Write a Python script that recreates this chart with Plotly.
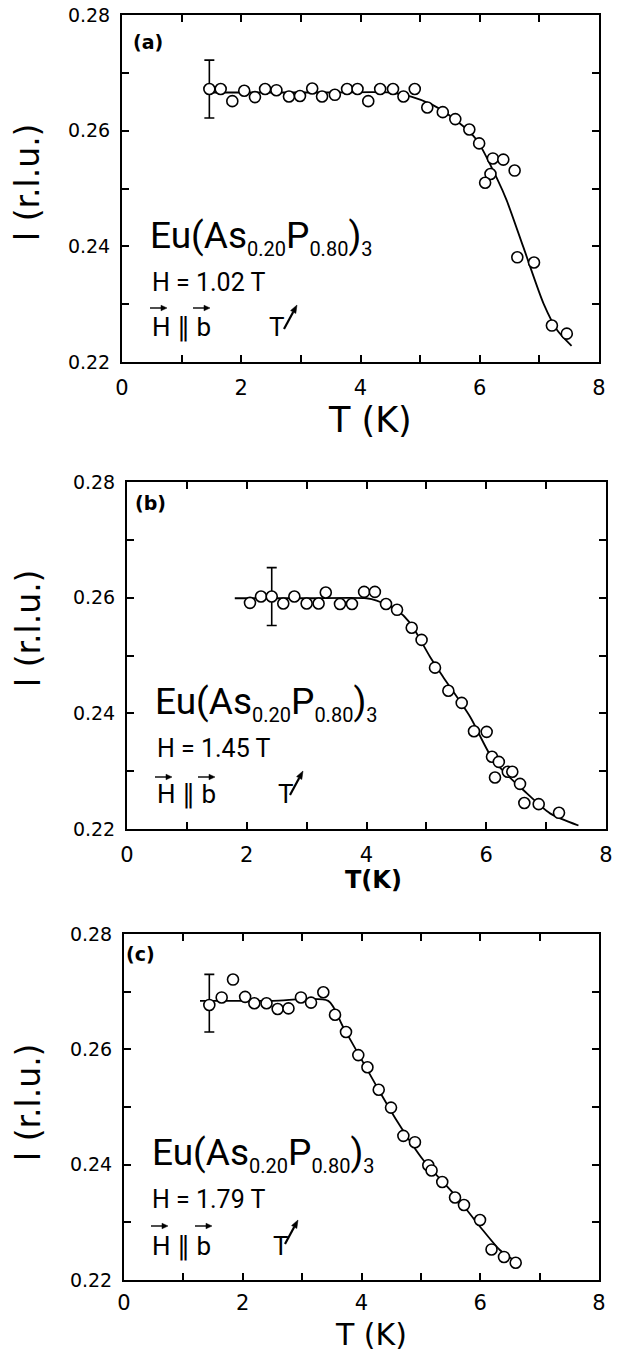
import math
import plotly.graph_objects as go

W, H = 618, 1354

# ---------------- data ----------------
# panel (a) H = 1.02 T
Ta = [1.465, 1.655, 1.85, 2.05, 2.23, 2.40, 2.59, 2.80, 2.985, 3.19, 3.355, 3.57, 3.775, 3.95,
      4.13, 4.33, 4.545, 4.72, 4.91, 5.12, 5.38, 5.59, 5.825, 5.99, 6.22, 6.395, 6.585, 6.18,
      6.09, 6.63, 6.91, 7.21, 7.46]
Ia = [0.2672, 0.2672, 0.2651, 0.2669, 0.2658, 0.2672, 0.2670, 0.2659, 0.2660, 0.2673, 0.2659,
      0.2662, 0.2672, 0.2672, 0.2651, 0.2672, 0.2672, 0.2659, 0.2672, 0.2640, 0.2632, 0.2620,
      0.2602, 0.2578, 0.2552, 0.2550, 0.2531, 0.2525, 0.2510, 0.2381, 0.2372, 0.2263, 0.2249]
Ta_err, Ia_err, dIa = [1.465], [0.2672], [0.005]
Ta_fit = [1.45, 2.5, 3.5, 4.5, 4.85, 5.2, 5.6, 5.95, 6.3, 6.45, 6.73, 7.07, 7.3, 7.54]
Ia_fit = [0.2666, 0.2666, 0.2666, 0.2666, 0.2659, 0.2645, 0.2618, 0.2584, 0.2515, 0.2480,
          0.2399, 0.2301, 0.2255, 0.2228]

# panel (b) H = 1.45 T
Tb = [2.054, 2.238, 2.417, 2.61, 2.795, 3.0, 3.20, 3.32, 3.557, 3.757, 3.96, 4.14, 4.326, 4.51,
      4.755, 4.92, 5.144, 5.367, 5.59, 5.795, 6.007, 6.096, 6.21, 6.146, 6.36, 6.435, 6.564,
      6.636, 6.876, 7.215]
Ib = [0.2591, 0.2602, 0.2602, 0.2590, 0.2602, 0.2590, 0.2590, 0.2609, 0.2589, 0.2589, 0.2610,
      0.2610, 0.2589, 0.2579, 0.2548, 0.2527, 0.2479, 0.2439, 0.2418, 0.2369, 0.2368, 0.2325,
      0.2316, 0.2289, 0.2299, 0.2299, 0.2278, 0.2245, 0.2243, 0.2228]
Tb_err, Ib_err, dIb = [2.417], [0.2602], [0.005]
Tb_fit = [1.80, 3.0, 4.0, 4.17, 4.5, 4.73, 5.06, 5.28, 5.73, 6.12, 6.675, 7.065, 7.54]
Ib_fit = [0.2599, 0.2599, 0.2599, 0.2595, 0.2579, 0.2556, 0.2498, 0.2463, 0.2394, 0.2319,
          0.2262, 0.2227, 0.2206]

# panel (c) H = 1.79 T
Tc = [1.437, 1.645, 1.836, 2.04, 2.195, 2.40, 2.588, 2.77, 2.98, 3.15, 3.357, 3.554, 3.739,
      3.946, 4.10, 4.29, 4.497, 4.705, 4.90, 5.125, 5.18, 5.36, 5.575, 5.726, 5.996, 6.19,
      6.40, 6.597]
Ic = [0.2677, 0.2690, 0.2721, 0.2691, 0.2680, 0.2680, 0.2670, 0.2671, 0.2690, 0.2681, 0.2699,
      0.2660, 0.2630, 0.2590, 0.2569, 0.2530, 0.2499, 0.2450, 0.2439, 0.2399, 0.2390, 0.2370,
      0.2343, 0.2330, 0.2304, 0.2253, 0.2240, 0.2230]
Tc_err, Ic_err, dIc = [1.437], [0.2680], [0.005]
Tc_fit = [1.28, 2.5, 3.44, 3.69, 4.26, 4.59, 5.04, 5.60, 6.0, 6.33, 6.557]
Ic_fit = [0.2684, 0.2684, 0.2684, 0.2639, 0.2535, 0.2477, 0.2408, 0.2344, 0.2292, 0.2252, 0.2235]

x_tickvals = [0, 2, 4, 6, 8]
x_ticktext = ["0", "2", "4", "6", "8"]
x_minor = [1, 3, 5, 7]
y_tickvals = [0.22, 0.24, 0.26, 0.28]
y_ticktext = ["0.22", "0.24", "0.26", "0.28"]
y_minor = [0.23, 0.25, 0.27]

panels = [
    dict(T=Ta, I=Ia, Te=Ta_err, Ie=Ia_err, dI=dIa, Tf=Ta_fit, If=Ia_fit),
    dict(T=Tb, I=Ib, Te=Tb_err, Ie=Ib_err, dI=dIb, Tf=Tb_fit, If=Ib_fit),
    dict(T=Tc, I=Ic, Te=Tc_err, Ie=Ic_err, dI=dIc, Tf=Tc_fit, If=Ic_fit),
]

# pixel boxes of the three frames (left, right, top, bottom)
boxes = [(122, 599, 15, 362), (127, 606, 482, 829), (124, 599, 934, 1280)]
x_standoff = [6, 6, 3]


def px(x):
    return x / W


def py(y):
    return 1 - y / H


fig = go.Figure()
layout = dict(
    width=W, height=H, margin=dict(l=0, r=0, t=0, b=0),
    paper_bgcolor="white", plot_bgcolor="white", showlegend=False,
)

for k, (p, b) in enumerate(zip(panels, boxes)):
    sfx = "" if k == 0 else str(k + 1)
    xa, ya = "x" + sfx, "y" + sfx
    fig.add_trace(go.Scatter(x=p["Tf"], y=p["If"], mode="lines",
                             line=dict(color="black", width=1.8, shape="spline", smoothing=0.7),
                             xaxis=xa, yaxis=ya, hoverinfo="skip"))
    fig.add_trace(go.Scatter(x=p["Te"], y=p["Ie"], mode="markers",
                             marker=dict(size=1, color="black"),
                             error_y=dict(type="data", array=p["dI"], color="black",
                                          thickness=1.6, width=5),
                             xaxis=xa, yaxis=ya, hoverinfo="skip"))
    fig.add_trace(go.Scatter(x=p["T"], y=p["I"], mode="markers",
                             marker=dict(symbol="circle", size=11, color="white",
                                         line=dict(color="black", width=1.6)),
                             xaxis=xa, yaxis=ya))
    l, r, t, bt = b
    common = dict(showline=True, linecolor="black", linewidth=2, mirror="ticks",
                  ticks="inside", ticklen=7, tickwidth=1.6, tickcolor="black",
                  showgrid=False, zeroline=False, automargin=False)
    minor_style = dict(ticks="inside", ticklen=7, tickwidth=1.6, tickcolor="black",
                       showgrid=False)
    layout["xaxis" + sfx] = dict(domain=[px(l), px(r)], range=[0, 8], anchor=ya,
                                 tickvals=x_tickvals, ticktext=x_ticktext,
                                 minor=dict(tickvals=x_minor, **minor_style),
                                 ticklabelstandoff=x_standoff[k],
                                 tickfont=dict(family="DejaVu Sans", size=21, color="black"),
                                 **common)
    layout["yaxis" + sfx] = dict(domain=[py(bt), py(t)], range=[0.22, 0.28], anchor=xa,
                                 tickvals=y_tickvals, ticktext=y_ticktext,
                                 minor=dict(tickvals=y_minor, **minor_style),
                                 ticklabelstandoff=6,
                                 tickfont=dict(family="DejaVu Sans", size=19, color="black"),
                                 **common)

fig.update_layout(**layout)

NARROW = "Roboto, Liberation Sans, sans-serif"


def text(x, y, s, size, family=NARROW, xanchor="left", yanchor="middle", angle=0):
    fig.add_annotation(x=px(x), y=py(y), xref="paper", yref="paper", text=s, showarrow=False,
                       xanchor=xanchor, yanchor=yanchor, textangle=angle,
                       font=dict(family=family, size=size, color="black"))


def arrow(xh, yh, ax, ay, width=1.6, head_len=6.0, head_w=2.8):
    """Small arrow drawn with shapes: head at (xh, yh), tail offset (ax, ay) in pixels."""
    xt, yt = xh + ax, yh + ay
    dx, dy = xh - xt, yh - yt
    n = math.hypot(dx, dy)
    ux, uy = dx / n, dy / n
    vx, vy = -uy, ux
    bx, by = xh - ux * head_len, yh - uy * head_len
    fig.add_shape(type="line", xref="paper", yref="paper",
                  x0=px(xt), y0=py(yt), x1=px(bx), y1=py(by),
                  line=dict(color="black", width=width))
    pts = [(xh, yh), (bx + vx * head_w, by + vy * head_w), (bx - vx * head_w, by - vy * head_w)]
    path = "M " + " L ".join(f"{px(a):.5f},{py(c):.5f}" for a, c in pts) + " Z"
    fig.add_shape(type="path", xref="paper", yref="paper", path=path,
                  fillcolor="black", line=dict(color="black", width=0.5))


def small(s):
    return '<sub><span style="font-size:20px">' + s + '</span></sub>'


compound = "Eu(As" + small("0.20") + "P" + small("0.80") + ")" + small("3")
labels = ["(a)", "(b)", "(c)"]
fields = ["H = 1.02 T", "H = 1.45 T", "H = 1.79 T"]
lab_pos = [(148, 42), (150, 503), (140, 954)]
comp_pos = [(148, 237), (153, 704), (150, 1154)]
field_pos = [(150, 282), (155, 749), (150, 1199)]
hb_pos = [(150, 327), (155, 794), (150, 1246)]
harrow = [(167, 308, 210), (172, 777, 215), (168, 1226, 212)]
t_pos = [(267, 327), (276, 794), (271, 1246)]
tarrow = [(297, 305), (303, 771), (298, 1220)]
ytitle_y = [182, 628, 1102]

for k in range(3):
    text(lab_pos[k][0], lab_pos[k][1], "<b>" + labels[k] + "</b>", 19,
         family="DejaVu Sans", xanchor="center")
    text(comp_pos[k][0], comp_pos[k][1], compound, 37)
    text(field_pos[k][0], field_pos[k][1], fields[k], 25)
    text(hb_pos[k][0], hb_pos[k][1], "H ∥ b", 26)
    x1, y1, x3 = harrow[k]
    arrow(x1, y1, -17, 0, width=1.4)
    arrow(x3, y1, -17, 0, width=1.4)
    text(t_pos[k][0], t_pos[k][1], "T", 26)
    arrow(tarrow[k][0], tarrow[k][1], -13, 24, width=2.2, head_len=8, head_w=3)
    text(28, ytitle_y[k], "l (r.l.u.)", 33, family="DejaVu Sans", xanchor="center", angle=-90)

text(370, 420, "T (K)", 35, family="DejaVu Sans", xanchor="center")
text(373, 880, "<b>T(K)</b>", 24, family="DejaVu Sans", xanchor="center")
text(371, 1354, "T (K)", 30, family="DejaVu Sans", xanchor="center", yanchor="bottom")

fig.write_html("out.html")
